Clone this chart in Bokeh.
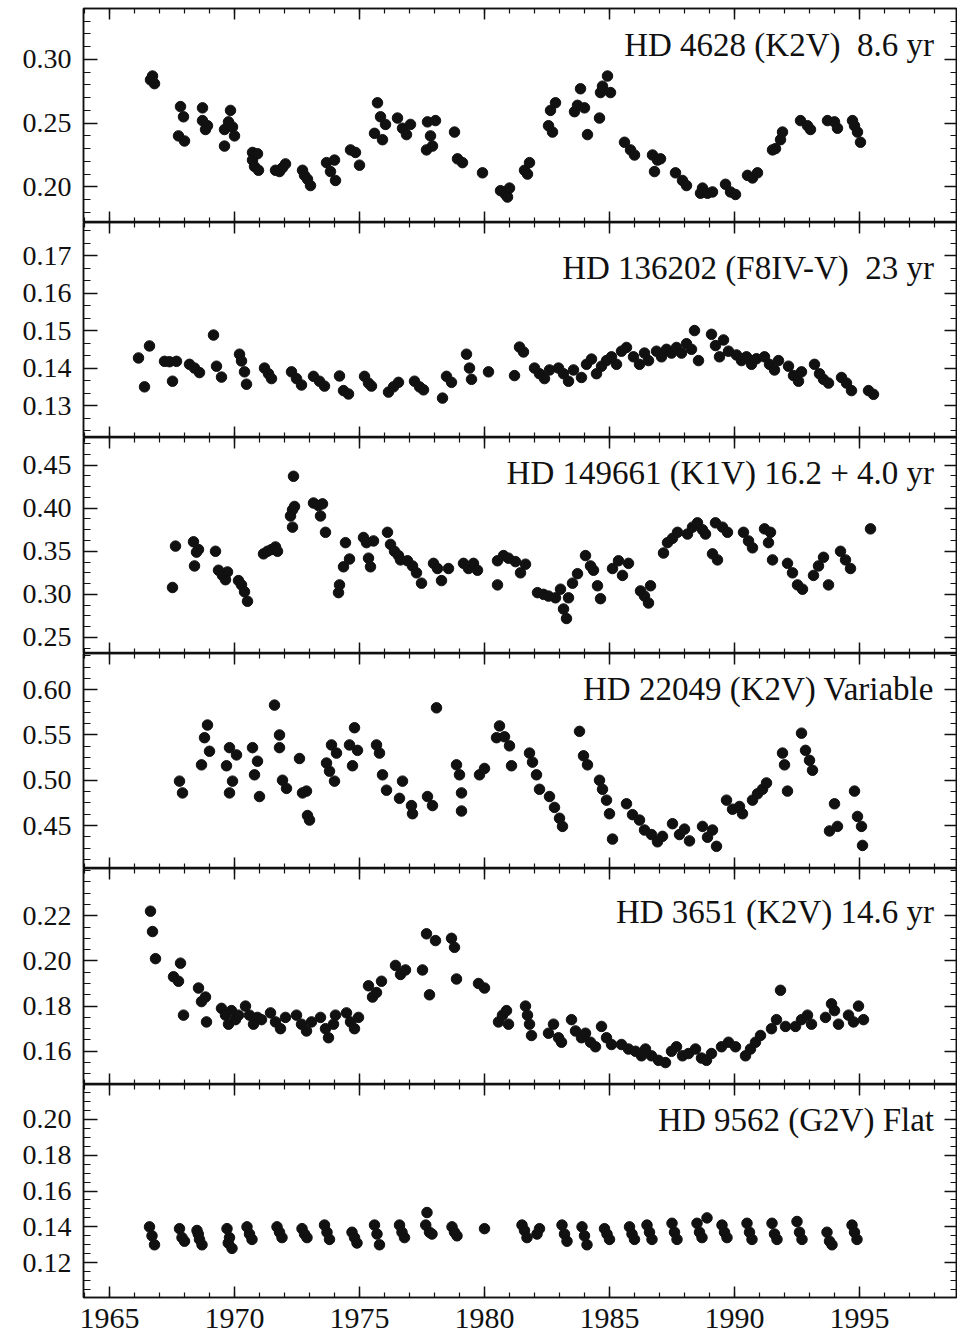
from bokeh.plotting import figure
from bokeh.layouts import column
from bokeh.models import Range1d, FixedTicker, LinearAxis, Label, PrintfTickFormatter
from bokeh.embed import file_html
from bokeh.resources import INLINE
import numpy as np

# ---------------- data ----------------
hd4628_year = [1966.64, 1966.72, 1966.80,
               1967.76, 1967.84, 1967.96, 1968.00,
               1968.72, 1968.72, 1968.84, 1968.92,
               1969.60, 1969.60, 1969.76, 1969.84, 1969.92, 1970.00,
               1970.72, 1970.72, 1970.80, 1970.92, 1970.96,
               1971.64, 1971.80, 1971.92, 1972.04,
               1972.72, 1972.80, 1972.92, 1973.04,
               1973.68, 1973.84, 1974.00, 1974.04,
               1974.64, 1974.84, 1975.00,
               1975.60, 1975.72, 1975.84, 1975.92, 1976.04,
               1976.52, 1976.72, 1976.88, 1977.04,
               1977.68, 1977.72, 1977.84, 1977.92, 1978.04,
               1978.80, 1978.92, 1979.12,
               1979.92,
               1980.64, 1980.84, 1980.92, 1981.00,
               1981.60, 1981.72, 1981.80,
               1982.56, 1982.64, 1982.72, 1982.84,
               1983.60, 1983.72, 1983.84, 1984.00, 1984.12,
               1984.60, 1984.64, 1984.72, 1984.92, 1985.04,
               1985.60, 1985.84, 1986.00,
               1986.72, 1986.80, 1986.92, 1987.04,
               1987.64, 1987.92, 1988.08,
               1988.64, 1988.72, 1988.92, 1989.12,
               1989.64, 1989.84, 1990.04,
               1990.52, 1990.72, 1990.92,
               1991.52, 1991.64, 1991.84, 1991.92,
               1992.64, 1992.92, 1993.04,
               1993.72, 1994.00, 1994.12,
               1994.72, 1994.80, 1994.92, 1995.04]
hd4628_val = [0.284, 0.287, 0.281,
              0.240, 0.263, 0.255, 0.236,
              0.262, 0.252, 0.245, 0.248,
              0.245, 0.232, 0.251, 0.260, 0.247, 0.240,
              0.227, 0.221, 0.216, 0.226, 0.213,
              0.213, 0.212, 0.215, 0.218,
              0.213, 0.209, 0.206, 0.201,
              0.219, 0.212, 0.221, 0.205,
              0.229, 0.227, 0.217,
              0.242, 0.266, 0.255, 0.237, 0.249,
              0.254, 0.246, 0.241, 0.249,
              0.229, 0.251, 0.240, 0.232, 0.252,
              0.243, 0.222, 0.219,
              0.211,
              0.197, 0.194, 0.192, 0.199,
              0.213, 0.210, 0.219,
              0.248, 0.260, 0.243, 0.266,
              0.259, 0.264, 0.277, 0.262, 0.241,
              0.254, 0.274, 0.279, 0.287, 0.274,
              0.235, 0.229, 0.225,
              0.225, 0.212, 0.221, 0.222,
              0.211, 0.205, 0.201,
              0.195, 0.199, 0.195, 0.196,
              0.202, 0.196, 0.194,
              0.209, 0.207, 0.211,
              0.229, 0.230, 0.237, 0.243,
              0.252, 0.248, 0.245,
              0.252, 0.251, 0.246,
              0.252, 0.248, 0.243, 0.235]

hd136202_year = [1966.16, 1966.40, 1966.60, 1967.20, 1967.40, 1967.52, 1967.68,
                 1968.20, 1968.40, 1968.60, 1969.16, 1969.28, 1969.48,
                 1970.20, 1970.28, 1970.40, 1970.48, 1971.20, 1971.36, 1971.48,
                 1972.28, 1972.48, 1972.68, 1973.16, 1973.40, 1973.60,
                 1974.20, 1974.36, 1974.56, 1975.20, 1975.36, 1975.48,
                 1976.16, 1976.36, 1976.56, 1977.20, 1977.40, 1977.56,
                 1978.32, 1978.48, 1978.68, 1979.28, 1979.40, 1979.48,
                 1980.16, 1981.20, 1981.40, 1981.56,
                 1982.00, 1982.20, 1982.40, 1982.60, 1982.96, 1983.16, 1983.36, 1983.56,
                 1983.88, 1984.08, 1984.28, 1984.48, 1984.68, 1984.88, 1985.08, 1985.28,
                 1985.48, 1985.68, 1985.96, 1986.20, 1986.40, 1986.56,
                 1986.88, 1987.08, 1987.28, 1987.48, 1987.68, 1987.88,
                 1988.08, 1988.28, 1988.40, 1988.56,
                 1989.08, 1989.24, 1989.40, 1989.56, 1989.76,
                 1990.08, 1990.28, 1990.48, 1990.68, 1990.88,
                 1991.20, 1991.40, 1991.60, 1991.76,
                 1992.16, 1992.36, 1992.56, 1992.68,
                 1993.20, 1993.40, 1993.56, 1993.76,
                 1994.28, 1994.48, 1994.68, 1995.36, 1995.56]
hd136202_val = [0.1427, 0.1350, 0.1459, 0.1418, 0.1417, 0.1365, 0.1418,
                0.1410, 0.1400, 0.1388, 0.1488, 0.1405, 0.1376,
                0.1437, 0.1419, 0.1390, 0.1357, 0.1400, 0.1385, 0.1372,
                0.1390, 0.1372, 0.1355, 0.1378, 0.1365, 0.1352,
                0.1379, 0.1340, 0.1331, 0.1378, 0.1360, 0.1352,
                0.1336, 0.1350, 0.1362, 0.1365, 0.1350, 0.1342,
                0.1320, 0.1378, 0.1362, 0.1437, 0.1400, 0.1370,
                0.1390, 0.1380, 0.1456, 0.1443,
                0.1400, 0.1385, 0.1372, 0.1395, 0.1400, 0.1385, 0.1365, 0.1395,
                0.1375, 0.1410, 0.1424, 0.1385, 0.1405, 0.1420, 0.1430, 0.1410,
                0.1445, 0.1455, 0.1430, 0.1410, 0.1440, 0.1420,
                0.1445, 0.1430, 0.1450, 0.1440, 0.1455, 0.1440,
                0.1465, 0.1450, 0.1500, 0.1420,
                0.1490, 0.1460, 0.1430, 0.1475, 0.1445,
                0.1435, 0.1420, 0.1430, 0.1410, 0.1425,
                0.1430, 0.1410, 0.1395, 0.1420,
                0.1405, 0.1380, 0.1365, 0.1390,
                0.1410, 0.1385, 0.1370, 0.1360,
                0.1375, 0.1360, 0.1340, 0.1340, 0.1330]

hd149661_year = [1967.52, 1967.64, 1968.36, 1968.48, 1968.40, 1968.56,
                 1969.24, 1969.36, 1969.52, 1969.64, 1969.72,
                 1970.16, 1970.28, 1970.40, 1970.52,
                 1971.16, 1971.32, 1971.48, 1971.64, 1971.72,
                 1972.24, 1972.32, 1972.36, 1972.40, 1972.32,
                 1973.16, 1973.36, 1973.52, 1973.44, 1973.64,
                 1974.16, 1974.20, 1974.36, 1974.44, 1974.60,
                 1975.16, 1975.28, 1975.36, 1975.44, 1975.56,
                 1976.12, 1976.24, 1976.40, 1976.56, 1976.64,
                 1976.92, 1977.12, 1977.28, 1977.48,
                 1977.96, 1978.12, 1978.28, 1978.56,
                 1979.16, 1979.36, 1979.56, 1979.72,
                 1980.52, 1980.52, 1980.76, 1980.96, 1981.24, 1981.44, 1981.64,
                 1982.12, 1982.36, 1982.56, 1982.84,
                 1983.04, 1983.16, 1983.28, 1983.36, 1983.52, 1983.72,
                 1984.04, 1984.24, 1984.36, 1984.52, 1984.64,
                 1985.12, 1985.36, 1985.52, 1985.76,
                 1986.24, 1986.40, 1986.56, 1986.64,
                 1987.16, 1987.32, 1987.52, 1987.72,
                 1988.12, 1988.32, 1988.52, 1988.72, 1988.84,
                 1989.12, 1989.32, 1989.24, 1989.52, 1989.72,
                 1990.36, 1990.56, 1990.72,
                 1991.20, 1991.44, 1991.36, 1991.52,
                 1992.12, 1992.32, 1992.52, 1992.72,
                 1993.16, 1993.36, 1993.56, 1993.76,
                 1994.24, 1994.44, 1994.64, 1995.44]
hd149661_val = [0.308, 0.356, 0.361, 0.349, 0.333, 0.352,
                0.350, 0.328, 0.322, 0.317, 0.326,
                0.316, 0.311, 0.303, 0.292,
                0.347, 0.350, 0.352, 0.355, 0.350,
                0.391, 0.398, 0.437, 0.402, 0.378,
                0.406, 0.403, 0.405, 0.391, 0.372,
                0.302, 0.311, 0.332, 0.360, 0.341,
                0.366, 0.360, 0.342, 0.332, 0.362,
                0.372, 0.358, 0.350, 0.345, 0.340,
                0.339, 0.333, 0.325, 0.313,
                0.336, 0.330, 0.316, 0.330,
                0.336, 0.330, 0.336, 0.328,
                0.339, 0.311, 0.345, 0.342, 0.338, 0.325, 0.335,
                0.302, 0.300, 0.298, 0.296,
                0.306, 0.283, 0.272, 0.296, 0.313, 0.324,
                0.345, 0.333, 0.328, 0.310, 0.295,
                0.330, 0.339, 0.322, 0.336,
                0.304, 0.298, 0.290, 0.310,
                0.348, 0.360, 0.365, 0.372,
                0.370, 0.378, 0.383, 0.375, 0.370,
                0.347, 0.340, 0.383, 0.378, 0.372,
                0.372, 0.362, 0.354,
                0.376, 0.372, 0.360, 0.340,
                0.336, 0.325, 0.311, 0.306,
                0.322, 0.333, 0.343, 0.311,
                0.350, 0.340, 0.330, 0.376]

hd22049_year = [1967.80, 1967.92, 1968.68, 1968.80, 1968.92, 1969.00,
                1969.68, 1969.80, 1969.80, 1969.92, 1970.08,
                1970.72, 1970.80, 1970.92, 1971.00,
                1971.60, 1971.80, 1971.80, 1971.92, 1972.08,
                1972.60, 1972.72, 1972.88, 1972.92, 1973.00,
                1973.68, 1973.80, 1973.88, 1974.00, 1974.08,
                1974.60, 1974.72, 1974.80, 1974.92,
                1975.68, 1975.80, 1975.92, 1976.08,
                1976.60, 1976.72, 1977.08, 1977.12,
                1977.72, 1977.92, 1978.08,
                1978.88, 1979.00, 1979.08, 1979.08,
                1979.80, 1980.00, 1980.48, 1980.60, 1980.80, 1981.00, 1981.08,
                1981.80, 1981.92, 1982.08, 1982.20,
                1982.60, 1982.80, 1983.00, 1983.12,
                1983.80, 1983.96, 1984.12,
                1984.60, 1984.72, 1984.88, 1985.00, 1985.12,
                1985.68, 1985.92, 1986.20, 1986.40, 1986.68, 1986.92, 1987.12,
                1987.52, 1987.80, 1988.00, 1988.20,
                1988.72, 1988.92, 1989.12, 1989.28,
                1989.68, 1989.92, 1990.20, 1990.32,
                1990.72, 1990.92, 1991.12, 1991.28,
                1991.92, 1992.00, 1992.12,
                1992.68, 1992.84, 1993.00, 1993.12,
                1993.80, 1994.00, 1994.12,
                1994.80, 1994.92, 1995.08, 1995.12]
hd22049_val = [0.499, 0.486, 0.517, 0.547, 0.561, 0.532,
               0.516, 0.536, 0.486, 0.499, 0.528,
               0.536, 0.506, 0.521, 0.482,
               0.583, 0.550, 0.536, 0.500, 0.491,
               0.524, 0.486, 0.488, 0.461, 0.456,
               0.519, 0.510, 0.539, 0.499, 0.530,
               0.539, 0.516, 0.558, 0.533,
               0.539, 0.530, 0.506, 0.489,
               0.480, 0.499, 0.472, 0.463,
               0.482, 0.472, 0.580,
               0.517, 0.506, 0.486, 0.466,
               0.506, 0.513, 0.547, 0.560, 0.548, 0.538, 0.516,
               0.530, 0.520, 0.506, 0.490,
               0.482, 0.470, 0.458, 0.449,
               0.554, 0.527, 0.517,
               0.500, 0.490, 0.478, 0.463, 0.435,
               0.474, 0.462, 0.456, 0.445, 0.440, 0.432, 0.438,
               0.452, 0.440, 0.446, 0.433,
               0.449, 0.437, 0.445, 0.427,
               0.478, 0.468, 0.471, 0.463,
               0.478, 0.485, 0.490, 0.497,
               0.530, 0.517, 0.488,
               0.552, 0.533, 0.522, 0.511,
               0.444, 0.474, 0.449,
               0.488, 0.460, 0.449, 0.428]

hd3651_year = [1966.64, 1966.72, 1966.84, 1967.56, 1967.76, 1967.84, 1967.96,
               1968.56, 1968.68, 1968.84, 1968.88,
               1969.48, 1969.64, 1969.76, 1969.88, 1970.04, 1970.16,
               1970.44, 1970.60, 1970.76, 1970.92, 1971.08,
               1971.44, 1971.64, 1971.84, 1972.04,
               1972.48, 1972.68, 1972.88, 1973.08,
               1973.44, 1973.64, 1973.76, 1973.96, 1974.04,
               1974.48, 1974.64, 1974.80, 1974.96,
               1975.36, 1975.52, 1975.68, 1975.88,
               1976.44, 1976.64, 1976.84,
               1977.52, 1977.68, 1977.80, 1978.04,
               1978.68, 1978.80, 1978.88,
               1979.76, 1980.00,
               1980.56, 1980.72, 1980.88, 1980.96,
               1981.64, 1981.72, 1981.80, 1981.88,
               1982.56, 1982.76, 1982.96, 1983.08,
               1983.48, 1983.64, 1983.88,
               1984.04, 1984.24, 1984.44, 1984.68, 1984.88, 1985.08,
               1985.48, 1985.76, 1986.04, 1986.28,
               1986.44, 1986.68, 1986.96, 1987.24,
               1987.48, 1987.68, 1987.92, 1988.16,
               1988.44, 1988.68, 1988.88, 1989.08,
               1989.48, 1989.76, 1990.04,
               1990.44, 1990.64, 1990.84, 1991.04,
               1991.48, 1991.68, 1991.84, 1992.04,
               1992.44, 1992.68, 1992.92, 1993.08,
               1993.64, 1993.88, 1994.00, 1994.16,
               1994.56, 1994.76, 1994.96, 1995.16]
hd3651_val = [0.222, 0.213, 0.201, 0.193, 0.191, 0.199, 0.176,
              0.188, 0.182, 0.184, 0.173,
              0.179, 0.176, 0.172, 0.178, 0.174, 0.176,
              0.180, 0.176, 0.172, 0.175, 0.174,
              0.177, 0.173, 0.170, 0.175,
              0.176, 0.172, 0.169, 0.173,
              0.175, 0.170, 0.166, 0.172, 0.176,
              0.177, 0.173, 0.170, 0.175,
              0.189, 0.184, 0.186, 0.191,
              0.198, 0.194, 0.196,
              0.196, 0.212, 0.185, 0.209,
              0.210, 0.206, 0.192,
              0.190, 0.188,
              0.173, 0.176, 0.178, 0.172,
              0.180, 0.176, 0.172, 0.167,
              0.168, 0.172, 0.166, 0.164,
              0.174, 0.169, 0.166,
              0.168, 0.164, 0.162, 0.171, 0.166, 0.163,
              0.163, 0.161, 0.160, 0.158,
              0.161, 0.158, 0.156, 0.155,
              0.160, 0.162, 0.158, 0.159,
              0.161, 0.157, 0.156, 0.159,
              0.162, 0.164, 0.162,
              0.158, 0.161, 0.164, 0.167,
              0.170, 0.174, 0.187, 0.171,
              0.171, 0.174, 0.176, 0.172,
              0.175, 0.181, 0.178, 0.172,
              0.176, 0.173, 0.180, 0.174]

hd9562_year = [1966.60, 1966.70, 1966.80,
               1967.80, 1967.90, 1968.00,
               1968.50, 1968.55, 1968.60, 1968.70,
               1969.70, 1969.75, 1969.80, 1969.90,
               1970.50, 1970.60, 1970.70,
               1971.70, 1971.80, 1971.90,
               1972.70, 1972.80, 1972.90,
               1973.60, 1973.70, 1973.80,
               1974.70, 1974.80, 1974.90,
               1975.60, 1975.70, 1975.80,
               1976.60, 1976.70, 1976.80,
               1977.65, 1977.70, 1977.80, 1977.90,
               1978.70, 1978.80, 1978.90,
               1980.00,
               1981.50, 1981.60, 1981.70, 1982.10, 1982.20,
               1983.10, 1983.20, 1983.30,
               1983.90, 1984.00, 1984.10,
               1984.80, 1984.90, 1985.00,
               1985.80, 1985.90, 1986.00,
               1986.50, 1986.60, 1986.70,
               1987.50, 1987.60, 1987.70,
               1988.50, 1988.60, 1988.70, 1988.90,
               1989.50, 1989.60, 1989.70,
               1990.50, 1990.60, 1990.70,
               1991.50, 1991.60, 1991.70,
               1992.50, 1992.60, 1992.70,
               1993.70, 1993.80, 1993.90,
               1994.70, 1994.80, 1994.90]
hd9562_val = [0.140, 0.135, 0.130,
              0.139, 0.134, 0.132,
              0.138, 0.136, 0.133, 0.130,
              0.139, 0.131, 0.134, 0.128,
              0.140, 0.136, 0.133,
              0.140, 0.137, 0.134,
              0.139, 0.136, 0.134,
              0.141, 0.137, 0.133,
              0.137, 0.134, 0.131,
              0.141, 0.136, 0.130,
              0.141, 0.137, 0.134,
              0.141, 0.148, 0.137, 0.136,
              0.140, 0.137, 0.135,
              0.139,
              0.141, 0.138, 0.134, 0.136, 0.139,
              0.141, 0.136, 0.132,
              0.140, 0.135, 0.130,
              0.139, 0.136, 0.133,
              0.140, 0.136, 0.133,
              0.141, 0.137, 0.133,
              0.142, 0.137, 0.133,
              0.142, 0.137, 0.134, 0.145,
              0.141, 0.137, 0.134,
              0.142, 0.137, 0.133,
              0.142, 0.136, 0.133,
              0.143, 0.137, 0.133,
              0.137, 0.132, 0.130,
              0.141, 0.137, 0.133]

star_labels = ["HD 4628 (K2V) \u00a08.6 yr",
               "HD 136202 (F8IV-V) \u00a023 yr",
               "HD 149661 (K1V) 16.2 + 4.0 yr",
               "HD 22049 (K2V) Variable",
               "HD 3651 (K2V) 14.6 yr",
               "HD 9562 (G2V) Flat"]

y_tick_labels = [[0.20, 0.25, 0.30],
                 [0.13, 0.14, 0.15, 0.16, 0.17],
                 [0.25, 0.30, 0.35, 0.40, 0.45],
                 [0.45, 0.50, 0.55, 0.60],
                 [0.16, 0.18, 0.20, 0.22],
                 [0.12, 0.14, 0.16, 0.18, 0.20]]
year_tick_labels = [1965, 1970, 1975, 1980, 1985, 1990, 1995]

# ---------------- layout / style ----------------
X_START, X_END = 1963.96, 1998.88
FONT = "Liberation Serif"
INK = "#111111"
FRAME_W = 873
TICK_FONT = "28px"

panels = [
    dict(x=hd4628_year, y=hd4628_val, yr=(0.172, 0.340), minor=0.01, fh=214, top=8, lab=36),
    dict(x=hd136202_year, y=hd136202_val, yr=(0.1215, 0.1788), minor=0.01 / 3, fh=215, top=0, lab=45),
    dict(x=hd149661_year, y=hd149661_val, yr=(0.2314, 0.482), minor=0.0125, fh=216, top=0, lab=35),
    dict(x=hd22049_year, y=hd22049_val, yr=(0.4025, 0.640), minor=0.0125, fh=215, top=0, lab=35),
    dict(x=hd3651_year, y=hd3651_val, yr=(0.1453, 0.2409), minor=0.005, fh=216, top=0, lab=43),
    dict(x=hd9562_year, y=hd9562_val, yr=(0.1006, 0.2194), minor=0.005, fh=213, top=0, lab=35),
]

x_minor = list(range(1964, 1999))


def style_axis(ax, tick_in, minor_in, labels=False, standoff=12, size=TICK_FONT):
    ax.axis_line_color = INK
    ax.axis_line_width = 1.5
    ax.major_tick_line_color = INK
    ax.major_tick_line_width = 1.5
    ax.minor_tick_line_color = INK
    ax.minor_tick_line_width = 1.2
    ax.major_tick_in = tick_in
    ax.major_tick_out = 0
    ax.minor_tick_in = minor_in
    ax.minor_tick_out = 0
    ax.axis_label = None
    if labels:
        ax.major_label_text_font = FONT
        ax.major_label_text_font_size = size
        ax.major_label_text_color = INK
        ax.major_label_standoff = standoff
    else:
        ax.major_label_text_color = None


figs = []
n = len(panels)
for i, (pd_, label) in enumerate(zip(panels, star_labels)):
    last = i == n - 1
    y0, y1 = pd_["yr"]
    p = figure(frame_width=FRAME_W, frame_height=pd_["fh"],
               x_range=Range1d(X_START, X_END), y_range=Range1d(y0, y1),
               x_axis_location=None, y_axis_location=None,
               output_backend="svg", toolbar_location=None,
               min_border_left=83, min_border_right=1,
               min_border_top=pd_["top"], min_border_bottom=45 if last else 0,
               background_fill_color="white", border_fill_color="white",
               outline_line_color=INK, outline_line_width=1.5)
    p.grid.visible = False

    major = y_tick_labels[i]
    minor = list(np.round(np.arange(y0 - y0 % pd_["minor"], y1, pd_["minor"]), 5))
    yt = FixedTicker(ticks=major, minor_ticks=minor)
    xt = FixedTicker(ticks=year_tick_labels, minor_ticks=x_minor)

    left = LinearAxis(ticker=yt, formatter=PrintfTickFormatter(format="%.2f"))
    style_axis(left, 14, 7, labels=True, standoff=12)
    p.add_layout(left, "left")

    right = LinearAxis(ticker=yt)
    style_axis(right, 12, 6)
    p.add_layout(right, "right")

    above = LinearAxis(ticker=xt)
    style_axis(above, 11, 5)
    p.add_layout(above, "above")

    below = LinearAxis(ticker=xt)
    if last:
        style_axis(below, 11, 5, labels=True, standoff=11, size="30px")
    else:
        style_axis(below, 11, 5)
    p.add_layout(below, "below")

    p.scatter(pd_["x"], pd_["y"], size=10.5, fill_color=INK, line_color=INK, line_width=1)

    # label position: fixed pixel offsets from the top-right corner of the frame
    dy = (y1 - y0) / pd_["fh"]
    p.add_layout(Label(x=X_END - 0.9, y=y1 - pd_["lab"] * dy, text=label,
                       text_align="right", text_baseline="alphabetic",
                       text_font=FONT, text_font_size="33px", text_color=INK))
    figs.append(p)

layout = column(*figs, spacing=0)
open("out.html", "w").write(file_html(layout, INLINE))
